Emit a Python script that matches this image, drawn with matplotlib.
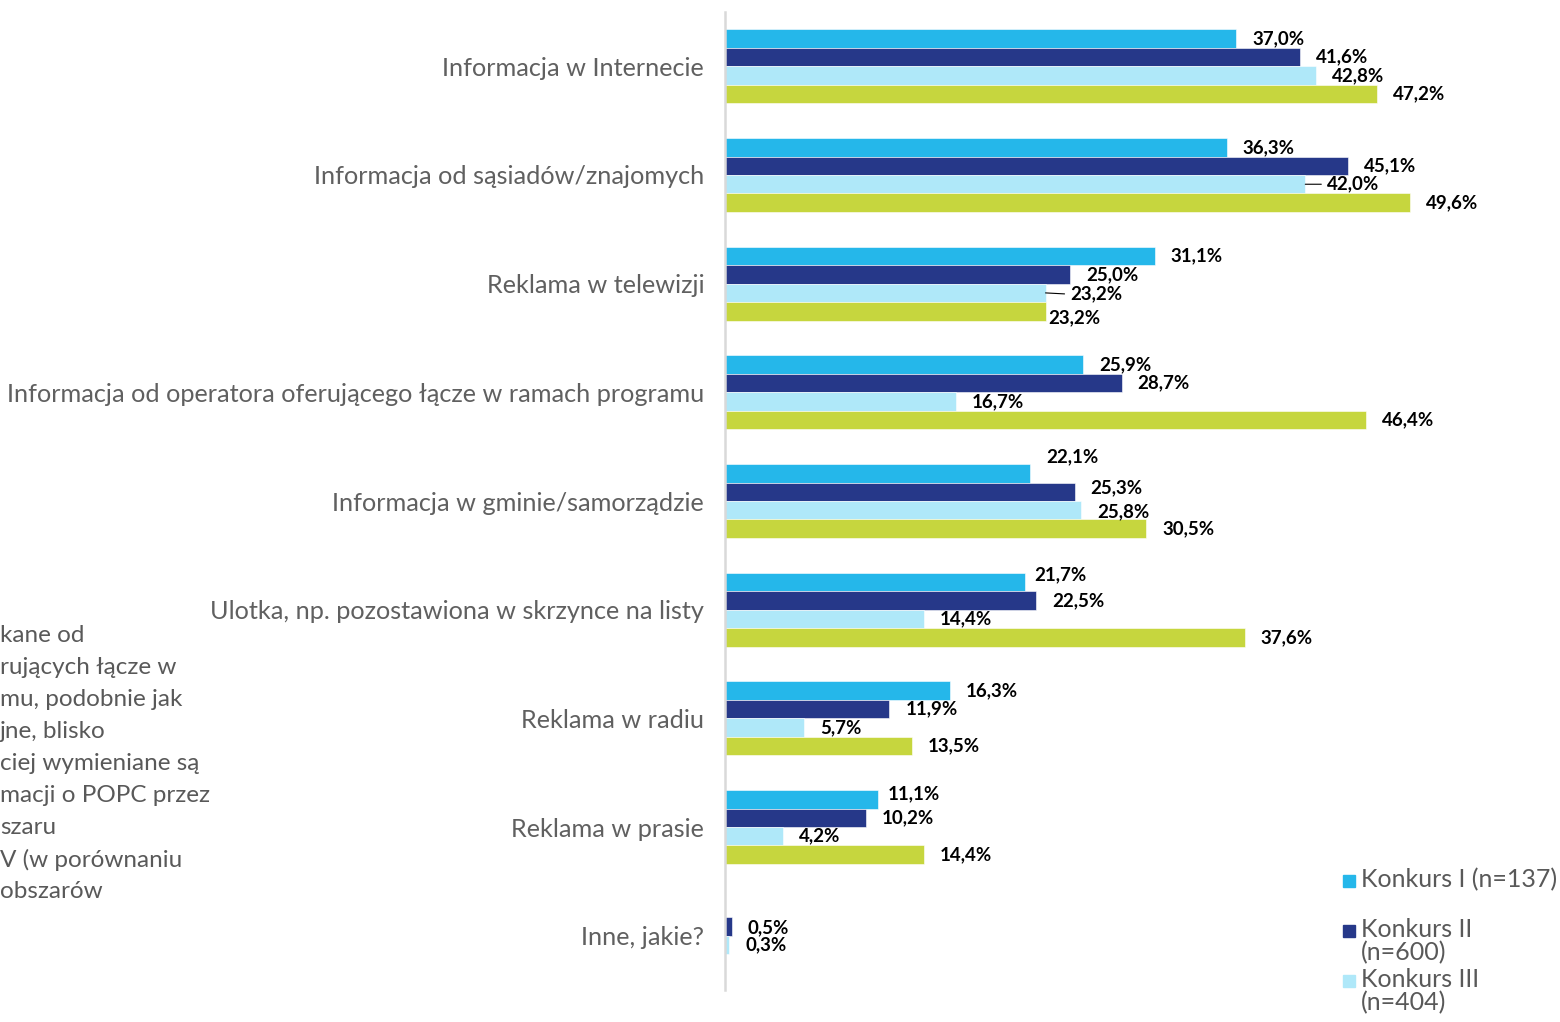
import matplotlib.pyplot as plt
from matplotlib.patches import Rectangle

# ── Data ──────────────────────────────────────────────────────────────────────
categories = [
    "Informacja w Internecie",
    "Informacja od sąsiadów/znajomych",
    "Reklama w telewizji",
    "Informacja od operatora oferującego łącze w ramach programu",
    "Informacja w gminie/samorządzie",
    "Ulotka, np. pozostawiona w skrzynce na listy",
    "Reklama w radiu",
    "Reklama w prasie",
    "Inne, jakie?",
]
konkurs_1 = [37.0, 36.3, 31.1, 25.9, 22.1, 21.7, 16.3, 11.1, None]
konkurs_2 = [41.6, 45.1, 25.0, 28.7, 25.3, 22.5, 11.9, 10.2, 0.5]
konkurs_3 = [42.8, 42.0, 23.2, 16.7, 25.8, 14.4, 5.7, 4.2, 0.3]
konkurs_4 = [47.2, 49.6, 23.2, 46.4, 30.5, 37.6, 13.5, 14.4, None]
series_labels = ["Konkurs I (n=137)", "Konkurs II\n(n=600)", "Konkurs III\n(n=404)"]

COLORS = ["#25B7EA", "#263889", "#AFE8F9", "#C6D63E"]
GRAY = "#595959"
FONT = ["Lato", "DejaVu Sans"]

# label nudges in pixels (series index, category index) -> (dx, dy); dy>0 is up
NUDGE = {
    (2, 1): (6, 0), (2, 2): (9, -1), (3, 2): (-13, -6),
    (0, 4): (0, 17), (1, 4): (0, 4), (2, 4): (0, -2),
    (0, 5): (-7, 7), (0, 7): (-7, 6), (1, 8): (0, -1),
}
LEADERS = {(2, 1), (2, 2)}

# ── Figure ────────────────────────────────────────────────────────────────────
W, H = 1560, 1022
fig = plt.figure(figsize=(W / 100, H / 100), dpi=100)
ax = fig.add_axes([725 / W, 1 - 990 / H, (1554 - 725) / W, (990 - 12) / H])

h = 0.17
series = [konkurs_1, konkurs_2, konkurs_3, konkurs_4]
for s, vals in enumerate(series):
    for i, v in enumerate(vals):
        if v is None:
            continue
        y = i + (s - 1.5) * h
        ax.barh(y, v, height=h, color=COLORS[s], edgecolor="white", linewidth=0.4)
        dx, dy = NUDGE.get((s, i), (0, 0))
        ax.annotate(f"{v:.1f}%".replace(".", ","), xy=(v, y),
                    xytext=((16 + dx) * 0.72, dy * 0.72), textcoords="offset points",
                    ha="left", va="center", fontsize=13.5, fontweight="bold",
                    family=FONT, color="black")
        if (s, i) in LEADERS:
            ax.annotate("", xy=(v, y), xytext=((10 + dx) * 0.72, dy * 0.72),
                        textcoords="offset points",
                        arrowprops=dict(arrowstyle="-", color="black", lw=0.8,
                                        shrinkA=0, shrinkB=0))

ax.set_xlim(0, 60)
ax.set_ylim(8.5, -0.5)
ax.set_yticks(range(len(categories)))
ax.set_yticklabels(categories, fontsize=18.2, color="#606060", family=FONT)
ax.tick_params(axis="y", length=0, pad=15)
ax.set_xticks([])
for side in ["top", "right", "bottom"]:
    ax.spines[side].set_visible(False)
ax.spines["left"].set_color("#D9D9D9")
ax.spines["left"].set_linewidth(1.8)

# ── Legend (manual, entries overlap as in the source) ─────────────────────────
for k, lab in enumerate(series_labels):
    ty = 881 + 50 * k
    fig.add_artist(Rectangle((1343 / W, 1 - (ty + 6) / H), 12 / W, 12 / H,
                             transform=fig.transFigure, color=COLORS[k]))
    fig.text(1361 / W, 1 - (ty - 13) / H, lab, ha="left", va="top", fontsize=18,
             color=GRAY, family=FONT, linespacing=1.0)

# ── Clipped side text ─────────────────────────────────────────────────────────
side_lines = ["kane od", "rujących łącze w", "mu, podobnie jak", "jne, blisko",
              "ciej wymieniane są", "macji o POPC przez", "szaru",
              "V (w porównaniu", "obszarów"]
for k, line in enumerate(side_lines):
    fig.text(0, 1 - (636 + 32 * k) / H, line, ha="left", va="center", fontsize=17.5,
             color=GRAY, family=FONT)

fig.savefig("out.png", dpi=100, facecolor="white")
